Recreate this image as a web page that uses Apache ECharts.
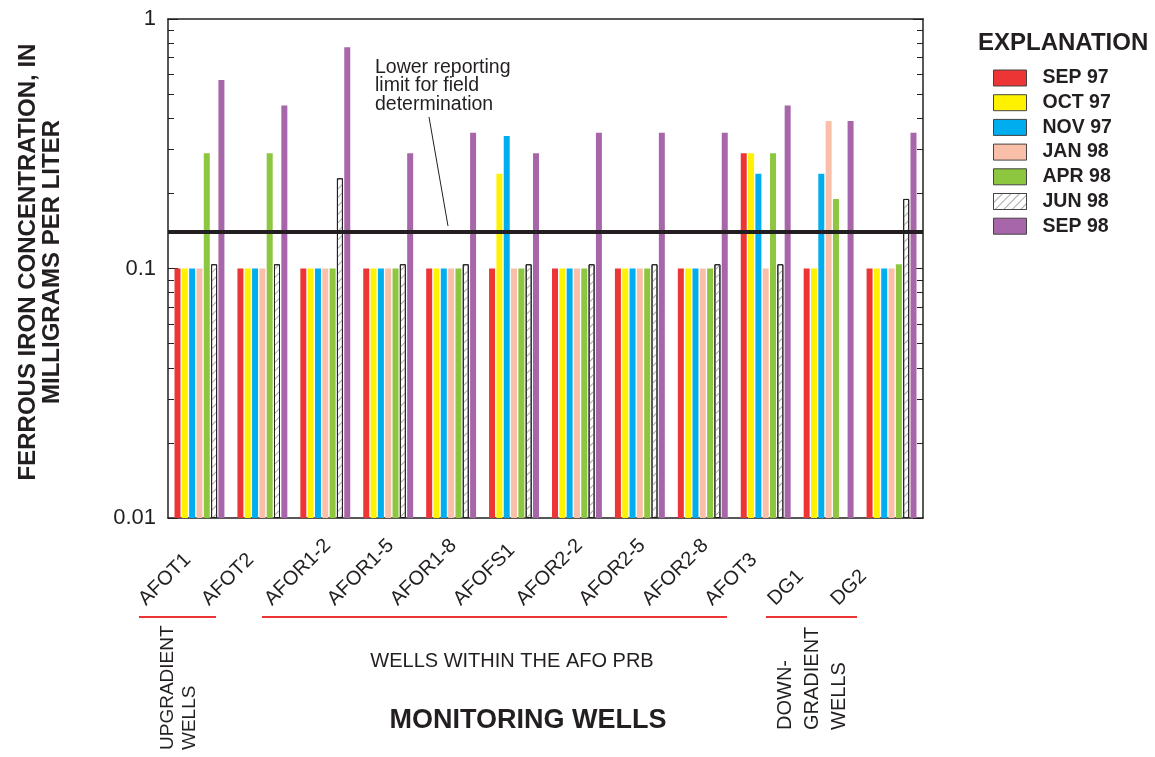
<!DOCTYPE html>
<html>
<head>
<meta charset="utf-8">
<script src="https://cdn.jsdelivr.net/npm/echarts@6/dist/echarts.min.js"></script>
<style>
  html, body { margin: 0; padding: 0; background: #fff; }
  #chart { width: 1155px; height: 757px; }
</style>
</head>
<body>
<div id="chart"></div>
<script>
// wells along the x axis
const wells = ['AFOT1', 'AFOT2', 'AFOR1-2', 'AFOR1-5', 'AFOR1-8', 'AFOFS1', 'AFOR2-2', 'AFOR2-5', 'AFOR2-8', 'AFOT3', 'DG1', 'DG2']

// ferrous iron, mg/L (0.1 = below field reporting limit)
const sep97 = [0.1, 0.1, 0.1, 0.1, 0.1, 0.1, 0.1, 0.1, 0.1, 0.29, 0.1, 0.1]
const oct97 = [0.1, 0.1, 0.1, 0.1, 0.1, 0.24, 0.1, 0.1, 0.1, 0.29, 0.1, 0.1]
const nov97 = [0.1, 0.1, 0.1, 0.1, 0.1, 0.34, 0.1, 0.1, 0.1, 0.24, 0.24, 0.1]
const jan98 = [0.1, 0.1, 0.1, 0.1, 0.1, 0.1, 0.1, 0.1, 0.1, 0.1, 0.39, 0.1]
const apr98 = [0.29, 0.29, 0.1, 0.1, 0.1, 0.1, 0.1, 0.1, 0.1, 0.29, 0.19, 0.104]
const jun98 = [0.104, 0.104, 0.23, 0.104, 0.104, 0.104, 0.104, 0.104, 0.104, 0.104, null, 0.19]
const sep98 = [0.57, 0.45, 0.77, 0.29, 0.35, 0.29, 0.35, 0.35, 0.35, 0.45, 0.39, 0.35]

const seriesNames = ['SEP 97', 'OCT 97', 'NOV 97', 'JAN 98', 'APR 98', 'JUN 98', 'SEP 98']
const seriesData = [sep97, oct97, nov97, jan98, apr98, jun98, sep98]
const seriesColors = ['#ee3535', '#fff200', '#00aeef', '#f9bfa9', '#8dc63f', '#ffffff', '#a866aa']

const reportingLimit = 0.14

// log axis ticks
const majorTicks = [0.01, 0.1, 1]
const minorTicks = [0.02, 0.03, 0.04, 0.05, 0.06, 0.07, 0.08, 0.09, 0.2, 0.3, 0.4, 0.5, 0.6, 0.7, 0.8, 0.9]

const FONT = '"Liberation Sans", Arial, Helvetica, sans-serif'
const INK = '#231f20'

const chart = echarts.init(document.getElementById('chart'), null, { renderer: 'canvas' })

const series = seriesNames.map((name, i) => {
  const s = {
    name: name,
    type: 'bar',
    data: seriesData[i],
    barWidth: 6,
    barGap: '22%',
    itemStyle: { color: seriesColors[i] },
    emphasis: { disabled: true },
  }
  if (name === 'JUN 98') {
    s.itemStyle = {
      color: '#ffffff',
      borderColor: INK,
      borderWidth: 1,
      decal: {
        symbol: 'rect',
        color: '#a8a8a8',
        dashArrayX: [1, 0],
        dashArrayY: [1, 5],
        rotation: -Math.PI / 4,
      },
    }
  }
  return s
})

// lower reporting limit line
series[6].markLine = {
  silent: true,
  symbol: 'none',
  label: { show: false },
  lineStyle: { color: INK, width: 4, type: 'solid' },
  data: [{ yAxis: reportingLimit }],
}

function logAxis(position, ticks, len, withLabels) {
  return {
    type: 'log',
    logBase: 10,
    min: 0.01,
    max: 1,
    startValue: 0.01,
    position: position,
    axisLine: { show: withLabels !== null, lineStyle: { color: INK, width: 1.5 } },
    axisTick: { show: true, inside: true, length: len, customValues: ticks, lineStyle: { color: INK, width: 1 } },
    axisLabel: withLabels ? {
      show: true,
      customValues: majorTicks,
      margin: 12,
      fontSize: 22,
      fontFamily: FONT,
      color: INK,
      formatter: (v) => String(v),
    } : { show: false },
    splitLine: { show: false },
    minorTick: { show: false },
  }
}

chart.setOption({
  backgroundColor: '#fff',
  animation: false,
  textStyle: { fontFamily: FONT },
  grid: { left: 168, right: 232, top: 19, bottom: 239 },
  legend: {
    orient: 'vertical',
    left: 993,
    top: 68,
    padding: 0,
    icon: 'rect',
    itemWidth: 33,
    itemHeight: 16,
    itemGap: 4.7,
    selectedMode: false,
    data: seriesNames,
    itemStyle: { borderColor: '#444', borderWidth: 1 },
    textStyle: { fontSize: 19.5, fontWeight: 'bold', color: INK, fontFamily: FONT, padding: [0, 0, 0, 11] },
  },
  xAxis: [
    {
      type: 'category',
      data: wells,
      position: 'bottom',
      axisLine: { lineStyle: { color: INK, width: 1.5 } },
      axisTick: { inside: true, alignWithLabel: true, length: 10, lineStyle: { color: INK } },
      axisLabel: {
        interval: 0,
        rotate: 45,
        margin: 27,
        color: INK,
        // labels start from a common baseline, so pad them into a fixed-width left-aligned box
        formatter: (v) => '{w|' + v + '}',
        rich: { w: { width: 81, align: 'left', fontSize: 20, fontFamily: FONT, color: INK } },
      },
    },
    {
      type: 'category',
      data: wells,
      position: 'top',
      axisLine: { lineStyle: { color: INK, width: 1.5 } },
      axisTick: { inside: true, alignWithLabel: true, length: 10, lineStyle: { color: INK } },
      axisLabel: { show: false },
    },
  ],
  yAxis: [
    logAxis('left', majorTicks, 10, true),
    logAxis('left', minorTicks, 6, null),
    logAxis('right', majorTicks, 10, false),
    logAxis('right', minorTicks, 6, null),
  ],
  series: series,
  graphic: [
    // y axis title
    {
      type: 'text', x: 40, y: 262, rotation: Math.PI / 2,
      style: {
        text: 'FERROUS IRON CONCENTRATION, IN\nMILLIGRAMS PER LITER',
        font: 'bold 24px ' + FONT, fill: INK, align: 'center', verticalAlign: 'middle', lineHeight: 24,
      },
    },
    // legend heading
    {
      type: 'text', x: 978, y: 43,
      style: { text: 'EXPLANATION', font: 'bold 24px ' + FONT, fill: INK, verticalAlign: 'middle' },
    },
    // reporting limit annotation
    {
      type: 'text', x: 375, y: 58,
      style: {
        text: 'Lower reporting\nlimit for field\ndetermination',
        font: '19.5px ' + FONT, fill: INK, verticalAlign: 'top', lineHeight: 18.5,
      },
    },
    { type: 'line', shape: { x1: 429, y1: 117, x2: 448, y2: 226 }, style: { stroke: INK, lineWidth: 1 } },
    // well group brackets
    { type: 'line', shape: { x1: 139, y1: 617, x2: 216, y2: 617 }, style: { stroke: '#ee3535', lineWidth: 2 } },
    { type: 'line', shape: { x1: 262, y1: 617, x2: 727, y2: 617 }, style: { stroke: '#ee3535', lineWidth: 2 } },
    { type: 'line', shape: { x1: 766, y1: 617, x2: 857, y2: 617 }, style: { stroke: '#ee3535', lineWidth: 2 } },
    {
      type: 'text', x: 157, y: 750, rotation: Math.PI / 2,
      style: { text: 'UPGRADIENT\nWELLS', font: '19px ' + FONT, fill: INK, align: 'left', verticalAlign: 'top', lineHeight: 22 },
    },
    {
      type: 'text', x: 512, y: 661,
      style: { text: 'WELLS WITHIN THE AFO PRB', font: '20px ' + FONT, fill: INK, align: 'center', verticalAlign: 'middle' },
    },
    {
      type: 'text', x: 772, y: 730, rotation: Math.PI / 2,
      style: { text: 'DOWN-\nGRADIENT\nWELLS', font: '20px ' + FONT, fill: INK, align: 'left', verticalAlign: 'top', lineHeight: 27 },
    },
    {
      type: 'text', x: 528, y: 721,
      style: { text: 'MONITORING WELLS', font: 'bold 27px ' + FONT, fill: INK, align: 'center', verticalAlign: 'middle' },
    },
  ],
})
</script>
</body>
</html>
